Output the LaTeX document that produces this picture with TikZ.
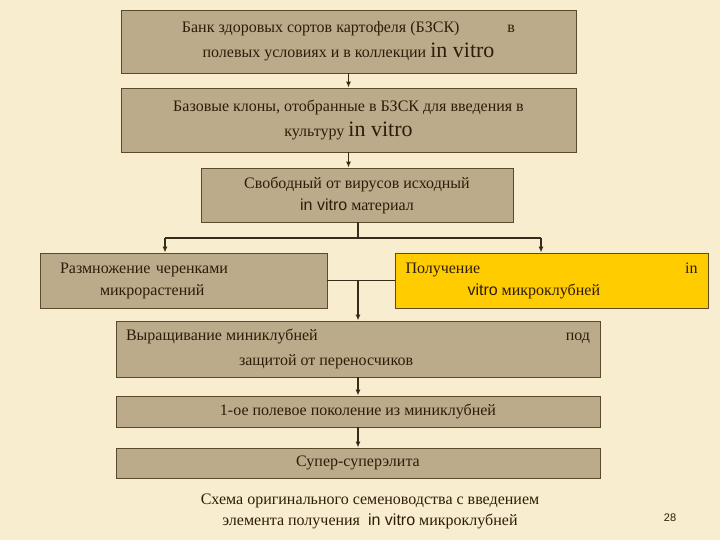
\documentclass[tikz,border=0pt]{standalone}
\usepackage{fontspec}
\setmainfont{Liberation Serif}
\newfontfamily\ivf{Liberation Sans}
\usetikzlibrary{arrows.meta}
\definecolor{bg}{HTML}{F8EDCF}
\definecolor{tan}{HTML}{BBAB8B}
\definecolor{brd}{HTML}{5A4A2A}
\definecolor{txt}{HTML}{2E1C08}
\definecolor{yel}{HTML}{FFCC00}
\begin{document}
\begin{tikzpicture}[x=1pt,y=-1pt,
  box/.style={draw=brd,fill=tan,line width=0.9pt,inner sep=0pt,text=txt,font=\fontsize{16}{25}\selectfont,align=center},
  con/.style={draw=brd!60!black,line width=1.2pt},
  arr/.style={con,-{Latex[length=6pt,width=5pt]}}]
\fill[bg] (0,0) rectangle (720,540);
\node[box,minimum width=455pt,minimum height=63pt] (b1) at (348.5,41.5) {Банк здоровых сортов картофеля (БЗСК)\hspace{3em}в\\полевых условиях и в коллекции {\fontsize{22}{22}\selectfont in vitro}};
\node[box,minimum width=455pt,minimum height=64pt] (b2) at (348.5,120) {Базовые клоны, отобранные в БЗСК для введения в\\культуру {\fontsize{22}{22}\selectfont in vitro}};
\node[box,font=\fontsize{16}{22}\selectfont,minimum width=312pt,minimum height=54pt] (b3) at (357,195) {Свободный от вирусов исходный\\{\ivf in vitro} материал};
\node[box,font=\fontsize{16}{22}\selectfont,minimum width=287pt,minimum height=55pt,text width=267pt,align=left] (b4) at (183.5,280.5) {\hspace*{10pt}Размножение черенками\\\hspace*{50pt}микрорастений};
\node[box,font=\fontsize{16}{22}\selectfont,fill=yel,minimum width=313pt,minimum height=55pt,align=left] (b5) at (551.5,280.5) {\makebox[292pt][l]{Получение\hfill in}\\\hspace*{62pt}{\ivf vitro} микроклубней};
\node[box,minimum width=484pt,minimum height=56pt,align=left] (b6) at (358,349) {\makebox[464pt][l]{Выращивание миниклубней\hfill под}\\\hspace*{113pt}защитой от переносчиков};
\node[box,minimum width=484pt,minimum height=31pt] (b7) at (358,411.5) {1-ое полевое поколение из миниклубней};
\node[box,minimum width=484pt,minimum height=30pt] (b8) at (358,463) {Супер-суперэлита};
\node[text=txt,font=\fontsize{16}{21}\selectfont,align=center] (cap) at (370,511) {Схема оригинального семеноводства с введением\\элемента получения \ {\ivf in vitro} микроклубней};
\node[text=txt,font=\ivf\fontsize{11}{11}\selectfont] (pg) at (670,518) {28};
\draw[arr] (b1.south) -- (b2.north);
\draw[arr] (b2.south -| b1.south) -- (b3.north -| b1.south);
\coordinate (bus) at (358,238);
\draw[con] (b3.south -| bus) -- (bus);
\draw[con] (165,238) -- (541,238);
\draw[arr] (165,238) -- (b4.north -| 165,0);
\draw[arr] (541,238) -- (b5.north -| 541,0);
\draw[con] (b4.east) -- (b5.west);
\draw[arr] (358,280) -- (b6.north -| 358,0);
\draw[arr] (b6.south) -- (b7.north);
\draw[arr] (b7.south) -- (b8.north);
\end{tikzpicture}
\end{document}
